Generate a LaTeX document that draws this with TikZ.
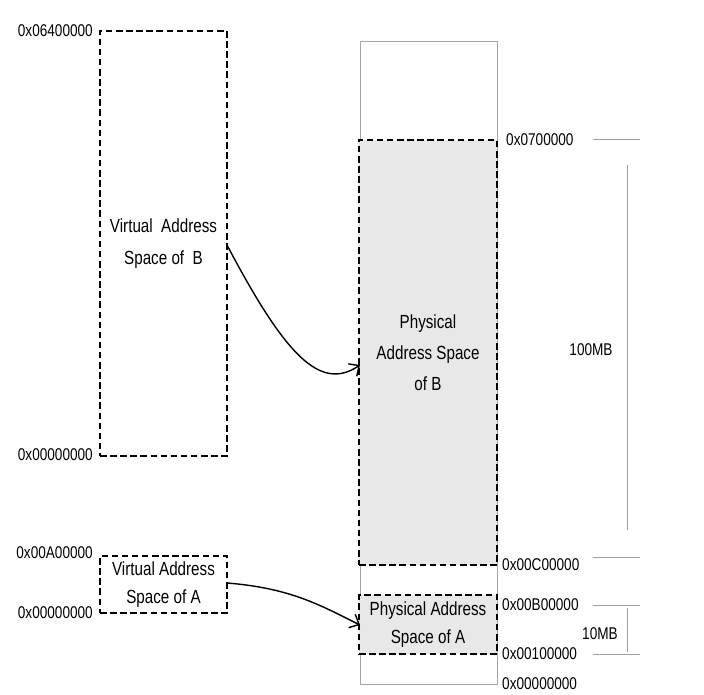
\documentclass[tikz,border=0pt]{standalone}
\usepackage{fontspec}
\setmainfont{Liberation Sans}[FakeStretch=0.8]
\usetikzlibrary{arrows.meta}
\begin{document}
\begin{tikzpicture}[x=1pt,y=-1pt,
  every node/.style={font=\fontsize{17}{30}\selectfont, inner sep=0pt},
  dbox/.style={draw=black, line width=2.8pt, dash pattern=on 6.5pt off 3.6pt, align=center,
    font=\fontsize{19}{31}\selectfont},
  tick/.style={draw=gray!75, line width=1pt},
  conn/.style={line width=1.4pt, -{Straight Barb[length=8pt,width=15pt,line width=1.4pt]}}]
\useasboundingbox (0,0) rectangle (704,695);
% physical memory outline
\draw[gray!70, line width=0.8pt] (360,41) rectangle (497,684);
% physical B
\node[dbox, fill=gray!18, minimum width=138pt, minimum height=425pt] (pB) at (428,352.5)
  {Physical\\Address Space\\of B};
% physical A
\node[dbox, fill=gray!18, minimum width=138pt, minimum height=59pt] (pA) at (428,624.5)
  {Physical Address\\[-3pt]Space of A};
% virtual B
\node[dbox, minimum width=127pt, minimum height=425pt] (vB) at (163.5,243.5)
  {Virtual\ \ Address\\[1pt]Space of\ \ B};
% virtual A
\node[dbox, minimum width=127pt, minimum height=57pt] (vA) at (163.5,584.5)
  {Virtual Address\\[-3pt]Space of A};
% left labels
\node[anchor=east] (l1) at (93,31) {0x06400000};
\node[anchor=east] (l2) at (93,455) {0x00000000};
\node[anchor=east] (l3) at (93,553) {0x00A00000};
\node[anchor=east] (l4) at (93,613) {0x00000000};
% right labels
\node[anchor=west] (r1) at (506,140) {0x0700000};
\node[anchor=west] (r2) at (502,565) {0x00C00000};
\node[anchor=west] (r3) at (502,605) {0x00B00000};
\node[anchor=west] (r4) at (502,654) {0x00100000};
\node[anchor=west] (r5) at (502,684) {0x00000000};
\node (mb100) at (591,350) {100MB};
\node (mb10) at (600,634) {10MB};
% ticks
\draw[tick] (593,140) -- (640,140);
\draw[tick] (627,165) -- (627,530);
\draw[tick] (593,557) -- (640,557);
\draw[tick] (593,605) -- (640,605);
\draw[tick] (627,608) -- (627,652);
\draw[tick] (593,654) -- (640,654);
% connectors
\coordinate (sB) at (227,245);
\coordinate (eB) at (360,365);
\coordinate (sA) at (227,583);
\coordinate (eA) at (360,625);
\draw[conn] (sB) .. controls (285,355) and (320,392) .. (eB);
\draw[conn] (sA) .. controls (290,588) and (320,605) .. (eA);
\end{tikzpicture}
\end{document}
